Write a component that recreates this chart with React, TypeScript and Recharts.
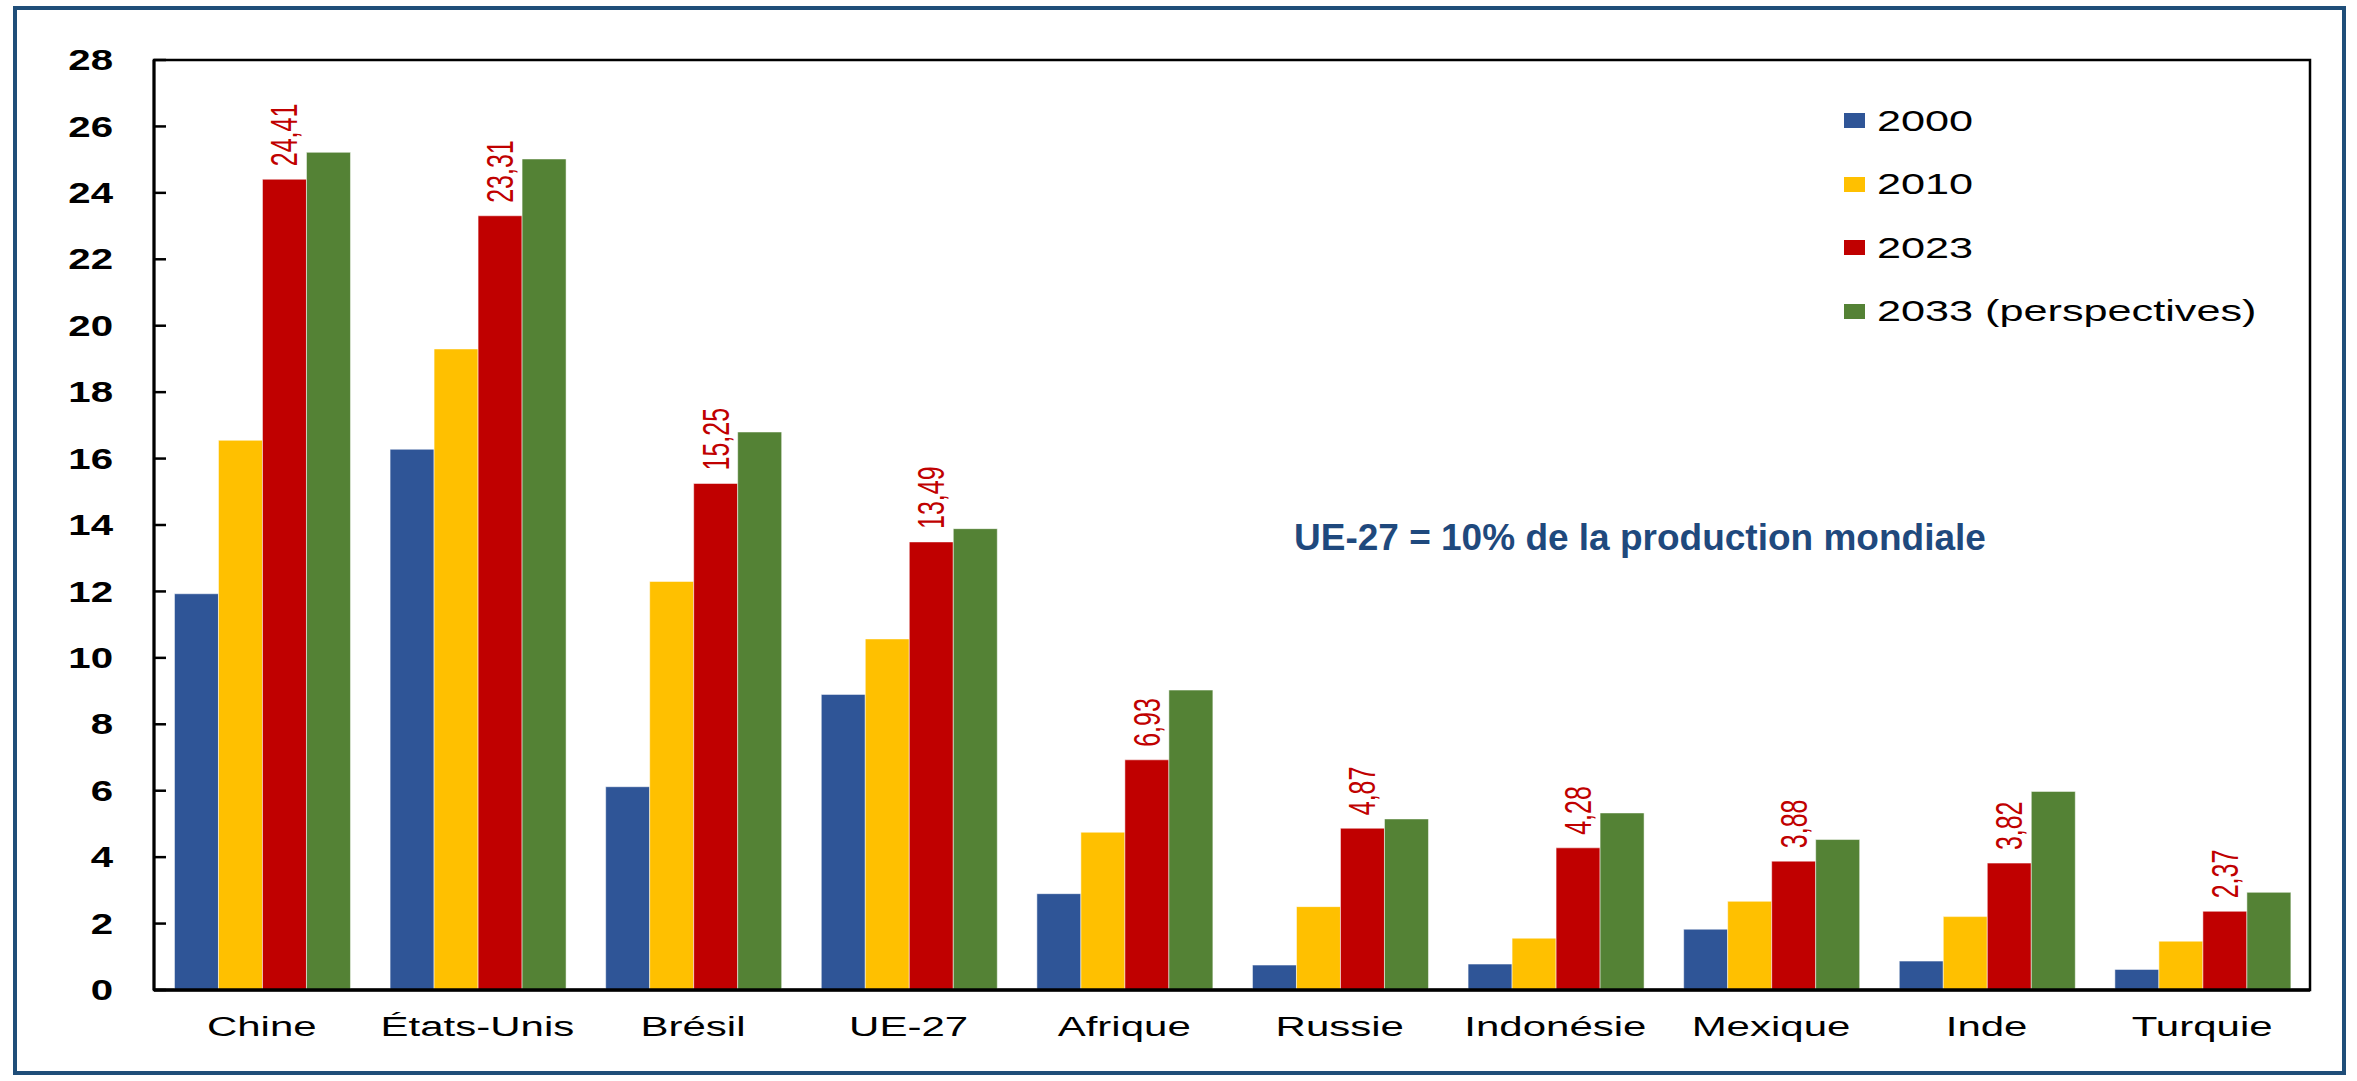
import { BarChart, Bar, XAxis, YAxis, Legend, ReferenceArea, LabelList } from "recharts";

const CATEGORIES = ["Chine", "États-Unis", "Brésil", "UE-27", "Afrique", "Russie", "Indonésie", "Mexique", "Inde", "Turquie"];
const V2000 = [11.93, 16.28, 6.12, 8.9, 2.9, 0.75, 0.78, 1.83, 0.87, 0.62];
const V2010 = [16.55, 19.3, 12.3, 10.57, 4.75, 2.51, 1.56, 2.67, 2.21, 1.47];
const V2023 = [24.41, 23.31, 15.25, 13.49, 6.93, 4.87, 4.28, 3.88, 3.82, 2.37];
const V2033 = [25.22, 25.02, 16.8, 13.89, 9.03, 5.15, 5.33, 4.53, 5.98, 2.94];
const Y_TICKS = [0, 2, 4, 6, 8, 10, 12, 14, 16, 18, 20, 22, 24, 26, 28];

const SERIES = [
  { key: "y2000", name: "2000", color: "#2F5597" },
  { key: "y2010", name: "2010", color: "#FFC000" },
  { key: "y2023", name: "2023", color: "#C00000" },
  { key: "y2033", name: "2033 (perspectives)", color: "#548235" },
];

const FONT = '"Liberation Sans", Arial, sans-serif';

const data = CATEGORIES.map((c, i) => ({
  name: c,
  y2000: V2000[i],
  y2010: V2010[i],
  y2023: V2023[i],
  y2033: V2033[i],
}));

// the source picture is stretched sideways, so text gets a scaleX
function YTick({ x, y, payload }: any) {
  return (
    <g>
      <line x1={x} x2={x + 12} y1={y} y2={y} stroke="#000" strokeWidth={2.5} />
      <text
        transform={`translate(${x - 41},${y}) scale(1.34,1)`}
        textAnchor="end"
        dominantBaseline="central"
        fontFamily={FONT}
        fontWeight="bold"
        fontSize={30}
        fill="#000"
      >
        {payload.value}
      </text>
    </g>
  );
}

function XTick({ x, y, payload }: any) {
  return (
    <text
      transform={`translate(${x},${y + 46}) scale(1.5,1)`}
      textAnchor="middle"
      fontFamily={FONT}
      fontSize={28}
      fill="#000"
    >
      {payload.value}
    </text>
  );
}

function ValueLabel(props: any) {
  const vb = props.viewBox ?? props;
  const x = vb.x ?? props.x;
  const y = vb.y ?? props.y;
  const w = vb.width ?? props.width;
  const cx = x + w / 2;
  const txt = Number(props.value).toFixed(2).replace(".", ",");
  return (
    <text
      transform={`translate(${cx},${y - 13}) scale(1.5,1) rotate(-90)`}
      textAnchor="start"
      dominantBaseline="central"
      fontFamily={FONT}
      fontSize={25}
      fill="#C00000"
    >
      {txt}
    </text>
  );
}

function LegendBox() {
  return (
    <div style={{ fontFamily: FONT }}>
      {SERIES.map((s) => (
        <div key={s.key} style={{ height: 63.5, display: "flex", alignItems: "center" }}>
          <span style={{ width: 21, height: 15, background: s.color, display: "inline-block", marginRight: 12 }} />
          <span
            style={{
              fontSize: 30,
              color: "#000",
              display: "inline-block",
              transform: "scaleX(1.44)",
              transformOrigin: "left center",
              whiteSpace: "nowrap",
            }}
          >
            {s.name}
          </span>
        </div>
      ))}
    </div>
  );
}

export default function App() {
  return (
    <div style={{ position: "absolute", left: 0, top: 0, width: 2357, height: 1081, background: "#fff" }}>
      <div
        style={{
          position: "absolute",
          left: 13,
          top: 6,
          width: 2333,
          height: 1069,
          border: "4px solid #1F4E79",
          boxSizing: "border-box",
        }}
      />
      <BarChart
        width={2357}
        height={1081}
        data={data}
        margin={{ top: 60, right: 47, bottom: 31, left: 0 }}
        barCategoryGap="9.5%"
        barGap={0}
      >
        <XAxis
          dataKey="name"
          height={60}
          tickLine={false}
          tickSize={0}
          tickMargin={0}
          axisLine={{ stroke: "#000", strokeWidth: 3.5 }}
          tick={<XTick />}
          interval={0}
        />
        <YAxis
          width={154}
          domain={[0, 28]}
          ticks={Y_TICKS}
          interval={0}
          tickLine={false}
          tickSize={0}
          tickMargin={0}
          axisLine={{ stroke: "#000", strokeWidth: 3 }}
          tick={<YTick />}
        />
        <ReferenceArea y1={0} y2={28} fill="none" stroke="#000" strokeWidth={2.5} ifOverflow="visible" />
        <Legend
          layout="horizontal"
          verticalAlign="middle"
          align="center"
          content={<LegendBox />}
          wrapperStyle={{ left: 1844, top: 89, width: 460, height: 260 }}
        />
        {SERIES.map((s) => (
          <Bar
            key={s.key}
            dataKey={s.key}
            name={s.name}
            fill={s.color}
            stroke="rgba(255,255,255,0.5)"
            strokeWidth={1}
            isAnimationActive={false}
          >
            {s.key === "y2023" && <LabelList dataKey="y2023" content={<ValueLabel />} />}
          </Bar>
        ))}
      </BarChart>
      <div
        style={{
          position: "absolute",
          left: 1294,
          top: 519,
          fontFamily: FONT,
          fontWeight: "bold",
          fontSize: 37,
          lineHeight: "37px",
          color: "#1F497D",
          whiteSpace: "nowrap",
        }}
      >
        UE-27 = 10% de la production mondiale
      </div>
    </div>
  );
}
